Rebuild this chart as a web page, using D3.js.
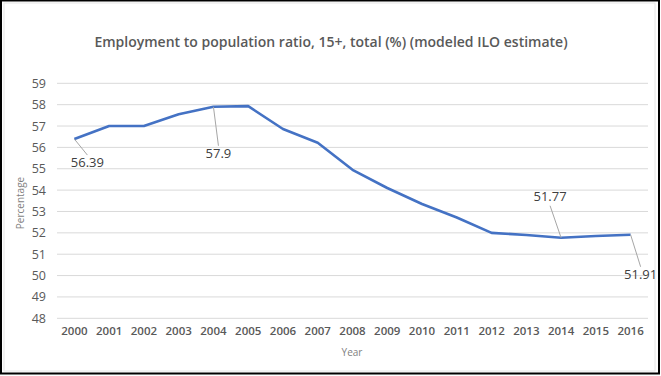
<!DOCTYPE html>
<html>
<head>
<meta charset="UTF-8">
<title>Employment to population ratio</title>
<script src="https://cdnjs.cloudflare.com/ajax/libs/d3/7.8.5/d3.min.js"></script>
<style>
  body { margin: 0; background: #fff; }
  svg { display: block; font-family: "Open Sans", "Liberation Sans", sans-serif; }
</style>
</head>
<body>
<div id="chart"></div>
<script>
// data
var years = ["2000","2001","2002","2003","2004","2005","2006","2007","2008",
             "2009","2010","2011","2012","2013","2014","2015","2016"];
var ratio = [56.39, 57.0, 57.0, 57.55, 57.9, 57.93, 56.86, 56.22, 54.95,
             54.1, 53.35, 52.72, 52.0, 51.9, 51.77, 51.85, 51.91];
var yTicks = [48, 49, 50, 51, 52, 53, 54, 55, 56, 57, 58, 59];
// which points get a label, and where the label sits (dx, dy from point)
var labelled = [
  {i: 0,  dx: 13, dy: 28},
  {i: 4,  dx: 5,  dy: 51},
  {i: 14, dx: -11, dy: -37},
  {i: 16, dx: 10, dy: 44}
];

var W = 661, H = 376;
var svg = d3.select("#chart").append("svg")
    .attr("width", W).attr("height", H);

// frame like the screenshot
svg.append("rect").attr("x", 0).attr("y", 0).attr("width", W).attr("height", H)
    .attr("fill", "#fff");
svg.append("rect").attr("x", 4).attr("y", 3).attr("width", 651).attr("height", 368)
    .attr("fill", "none").attr("stroke", "#e6e6e6");
svg.append("rect").attr("x", 1).attr("y", 0.5).attr("width", 658).attr("height", 373)
    .attr("fill", "none").attr("stroke", "#000").attr("stroke-width", 2);

var x = d3.scaleBand().domain(years).range([57, 648]);
var y = d3.scaleLinear().domain([48, 59]).range([318.3, 83.3]);

// gridlines
svg.append("g")
  .selectAll("line").data(yTicks).join("line")
    .attr("x1", 57).attr("x2", 648)
    .attr("y1", function(d){ return y(d); })
    .attr("y2", function(d){ return y(d); })
    .attr("stroke", "#d9d9d9").attr("stroke-width", 1);

// y axis
var yAxis = svg.append("g")
    .attr("transform", "translate(46,0)")
    .call(d3.axisLeft(y).tickValues(yTicks).tickSize(0).tickPadding(0));
yAxis.select(".domain").remove();
yAxis.selectAll("text").attr("fill", "#595959").attr("font-size", 12.5)
    .attr("font-family", "Open Sans, sans-serif");

// x axis
var xAxis = svg.append("g")
    .attr("transform", "translate(0,327)")
    .call(d3.axisBottom(x).tickSize(0).tickPadding(0));
xAxis.select(".domain").remove();
xAxis.selectAll("text").attr("fill", "#595959").attr("font-size", 11.5)
    .attr("font-family", "Open Sans, sans-serif").attr("font-weight", 600);

// line
var line = d3.line()
    .x(function(d, i){ return x(years[i]) + x.bandwidth() / 2; })
    .y(function(d){ return y(d); });
svg.append("path").datum(ratio)
    .attr("d", line)
    .attr("fill", "none")
    .attr("stroke", "#4472c4")
    .attr("stroke-width", 2.6)
    .attr("stroke-linejoin", "round");

// data labels with leader lines
var lab = svg.append("g");
labelled.forEach(function(l){
  var px = x(years[l.i]) + x.bandwidth() / 2, py = y(ratio[l.i]);
  var tx = px + l.dx, ty = py + l.dy;
  var ly = l.dy > 0 ? ty - 12 : ty + 5;
  lab.append("line")
    .attr("x1", px).attr("y1", py).attr("x2", tx).attr("y2", ly)
    .attr("stroke", "#a6a6a6").attr("stroke-width", 1);
  lab.append("text")
    .attr("x", tx).attr("y", ty)
    .attr("text-anchor", "middle")
    .attr("font-size", 13).attr("fill", "#404040")
    .attr("font-family", "Open Sans, sans-serif")
    .text(ratio[l.i]);
});

// title
svg.append("text")
    .attr("x", 331).attr("y", 47)
    .attr("text-anchor", "middle")
    .attr("font-size", 14).attr("font-weight", 600)
    .attr("fill", "#595959")
    .text("Employment to population ratio, 15+, total (%) (modeled ILO estimate)");

// axis titles
svg.append("text")
    .attr("x", 352).attr("y", 356)
    .attr("text-anchor", "middle")
    .attr("font-size", 10).attr("fill", "#7f7f7f")
    .text("Year");
svg.append("text")
    .attr("transform", "translate(24,203) rotate(-90)")
    .attr("text-anchor", "middle")
    .attr("font-size", 10).attr("fill", "#7f7f7f")
    .text("Percentage");
</script>
</body>
</html>
